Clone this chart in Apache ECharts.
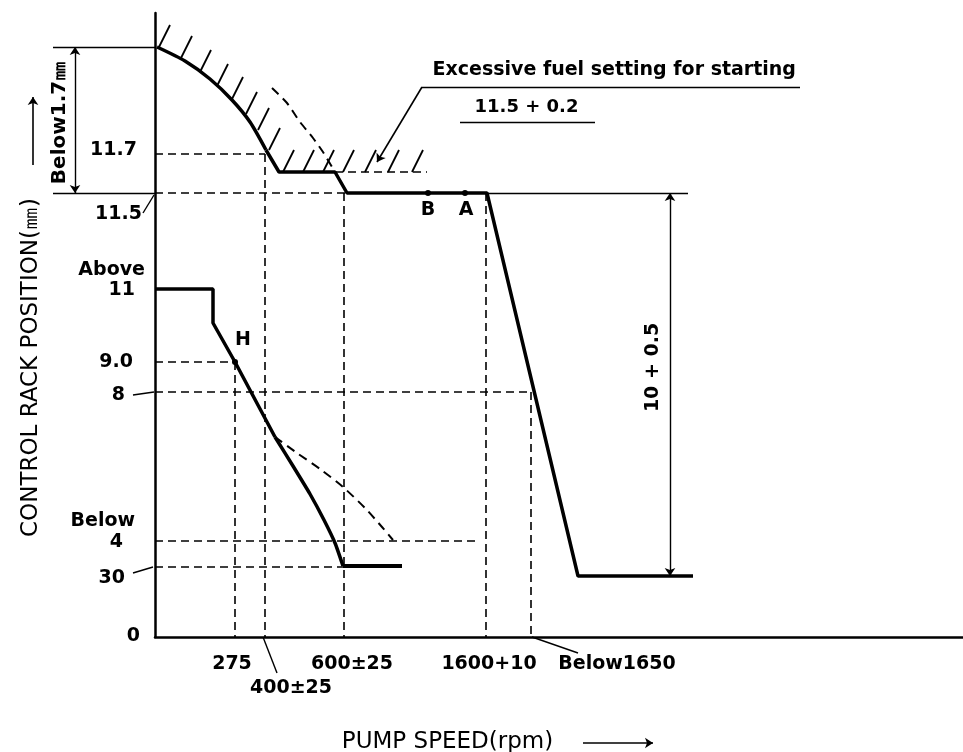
<!DOCTYPE html>
<html lang="en">
<head>
    <meta charset="UTF-8">
    <title>Control rack position vs pump speed</title>
    <script src="https://cdn.jsdelivr.net/npm/echarts@6/dist/echarts.min.js"></script>
    <style>
        html, body { margin: 0; padding: 0; background: #fff; }
    </style>
</head>
<body>
<div id="main" style="width: 963px;height:752px;"></div>
<script>
    // diagram units: the chart is a schematic, axes are not to scale
    var xLabelAt   = [77, 136, 197, 334, 462];
    var xLabels    = ['275', '400±25', '600±25', '1600+10', 'Below1650'];
    var yLabelAt   = [1, 59, 95, 116, 242, 275, 347, 367, 423, 487];
    var yLabels    = ['0', '30', '4', 'Below', '8', '9.0', '11', 'Above', '11.5', '11.7'];

    // full load / starting curve
    var upperCurve = [[2, 590], [30, 576], [55, 558], [77, 537], [95, 515], [111, 487]];
    var upperSteps = [[111, 487], [124, 465], [180, 465], [192, 444], [332, 444], [423, 61], [538, 61]];
    var startDashed = [[117, 549], [132, 534], [145, 515], [158, 499], [168, 485], [177, 470], [182, 462]];
    // idle curve
    var idleSteps  = [[0, 348], [58, 348], [58, 314], [80, 275], [120, 200]];
    var idleCurve  = [[120, 200], [138, 171], [155, 143], [169, 117], [180, 94], [188, 71]];
    var idleTail   = [[188, 71], [247, 71]];
    var idleDashed = [[120, 200], [142, 184], [165, 168], [188, 150], [210, 129], [227, 110], [238, 97]];

    // measuring points
    var pointNames = ['B', 'A', 'H'];
    var pointX     = [273, 310, 80];
    var pointY     = [444, 444, 275];

    // dashed reference lines
    var guides = [
        [[0, 483], [110, 483]], [[110, 483], [110, 0]],
        [[0, 444], [192, 444]], [[189, 444], [189, 0]], [[331, 444], [331, 0]],
        [[0, 245], [376, 245]], [[376, 245], [376, 0]],
        [[0, 275], [80, 275]], [[80, 275], [80, 0]],
        [[0, 96], [322, 96]], [[0, 70], [188, 70]],
        [[180, 465], [272, 465]]
    ];
    // thin solid lines: extension lines, underlines, label leaders
    var thinLines = [
        [[-102, 590], [0, 590]], [[-102, 444], [0, 444]], [[332, 444], [533, 444]],
        [[267, 550], [645, 550]], [[305, 515], [440, 515]],
        [[-12, 424], [-1, 442]], [[-22, 242], [-1, 245]], [[-22, 64], [-2, 70]],
        [[108, 0], [122, -36]], [[377, 0], [423, -16]]
    ];
    var dimLines   = [[[-80, 590], [-80, 444]], [[515, 444], [515, 61]]];
    var arrowLines = [[[267, 550], [222, 475]], [[-122, 472], [-122, 540]], [[428, -106], [498, -106]]];
    // hatching for the excess fuel limit
    var hatchBase = [[4, 590], [26, 579], [45, 565], [62, 551], [77, 538], [91, 523], [103, 507], [114, 487],
                     [128, 465], [148, 465], [168, 465], [188, 465], [210, 465], [233, 465], [257, 465]];

    var FONT = 'DejaVu Sans';
    var notes = [
        {text: 'Excessive fuel setting for starting', at: [278, 566], rotate: 0, align: 'left', size: 19, bold: true},
        {text: '11.5 + 0.2', at: [320, 529], rotate: 0, align: 'left', size: 18, bold: true},
        {text: 'Below1.7㎜', at: [-95, 514], rotate: 90, align: 'center', size: 20, bold: true},
        {text: '10 + 0.5', at: [499, 269], rotate: 90, align: 'center', size: 19, bold: true},
        {text: 'CONTROL RACK POSITION(㎜)', at: [-123, 269], rotate: 90, align: 'center', size: 23, bold: false},
        {text: 'PUMP SPEED(rpm)', at: [293, -106], rotate: 0, align: 'center', size: 23, bold: false}
    ];
    var yPad = {'0': 5, '30': 20, '4': 22, 'Below': 10, '8': 20, '9.0': 12, '11': 10, 'Above': 0, '11.5': 3, '11.7': 8};
    var pointOffset = {B: [0, 17], A: [1, 17], H: [8, -22]};

    var tickFont = {fontFamily: FONT, fontSize: 19, fontWeight: 'bold', color: '#000'};
    var yRich = {};
    yLabels.forEach(function (t, i) {
        yRich['p' + i] = Object.assign({padding: [0, yPad[t], 0, 0]}, tickFont);
    });

    function segs(list) {
        return list.map(function (c) { return {coords: c}; });
    }
    function pathLine(data, width, dashed, smooth) {
        return {
            type: 'line', data: data, smooth: smooth || false, symbol: 'none', clip: false,
            lineStyle: {color: '#000', width: width, type: dashed ? [9, 6] : 'solid'}
        };
    }

    var myChart = echarts.init(document.getElementById('main'));
    myChart.setOption({
        animation: false,
        backgroundColor: '#fff',
        grid: {left: 155, right: 0, top: 13, bottom: 115},
        xAxis: {
            type: 'value', min: 0, max: 808,
            axisLine: {lineStyle: {color: '#000', width: 2.5}},
            axisTick: {show: false},
            splitLine: {show: false},
            axisLabel: {
                customValues: xLabelAt,
                margin: 18,
                formatter: function (v) {
                    var t = xLabels[xLabelAt.indexOf(v)];
                    return t === '400±25' ? '{low|' + t + '}' : '{n|' + t + '}';
                },
                rich: {
                    n: tickFont,
                    low: Object.assign({padding: [24, 0, 0, 0]}, tickFont)
                }
            }
        },
        yAxis: {
            type: 'value', min: 0, max: 624,
            axisLine: {lineStyle: {color: '#000', width: 2.5}},
            axisTick: {show: false},
            splitLine: {show: false},
            axisLabel: {
                customValues: yLabelAt,
                margin: 10,
                formatter: function (v) {
                    var i = yLabelAt.indexOf(v);
                    return '{p' + i + '|' + yLabels[i] + '}';
                },
                rich: yRich
            }
        },
        series: [
            pathLine(upperCurve, 3.5, false, 0.25),
            pathLine(upperSteps, 3.5, false),
            pathLine(startDashed, 2, true, 0.25),
            pathLine(idleSteps, 3.5, false),
            pathLine(idleCurve, 3.5, false, 0.2),
            pathLine(idleTail, 4, false),
            pathLine(idleDashed, 2, true, 0.25),
            {
                type: 'lines', coordinateSystem: 'cartesian2d', clip: false,
                data: segs(guides),
                lineStyle: {color: '#000', width: 1.6, type: [8, 5], opacity: 1}
            },
            {
                type: 'lines', coordinateSystem: 'cartesian2d', clip: false,
                data: segs(thinLines),
                lineStyle: {color: '#000', width: 1.4, opacity: 1}
            },
            {
                type: 'lines', coordinateSystem: 'cartesian2d', clip: false,
                data: segs(hatchBase.map(function (p) { return [p, [p[0] + 11, p[1] + 22]]; })),
                lineStyle: {color: '#000', width: 1.8, opacity: 1}
            },
            {
                type: 'lines', coordinateSystem: 'cartesian2d', clip: false,
                symbol: ['arrow', 'arrow'], symbolSize: [8, 8],
                data: segs(dimLines),
                lineStyle: {color: '#000', width: 1.4, opacity: 1}
            },
            {
                type: 'lines', coordinateSystem: 'cartesian2d', clip: false,
                symbol: ['none', 'arrow'], symbolSize: 8,
                data: segs(arrowLines),
                lineStyle: {color: '#000', width: 1.6, opacity: 1}
            },
            {
                type: 'scatter', symbolSize: 6, clip: false,
                itemStyle: {color: '#000', opacity: 1},
                data: pointNames.map(function (n, i) {
                    return {
                        name: n, value: [pointX[i], pointY[i]],
                        label: Object.assign({show: true, formatter: n, position: 'inside',
                            offset: pointOffset[n], opacity: 1, textBorderWidth: 0}, tickFont)
                    };
                })
            },
            {
                type: 'scatter', symbolSize: 1, clip: false,
                itemStyle: {color: 'rgba(0,0,0,0)', opacity: 1},
                data: notes.map(function (n) {
                    return {
                        value: n.at,
                        label: {show: true, formatter: n.text, position: [0, 0], rotate: n.rotate,
                            align: n.align, verticalAlign: 'middle', opacity: 1,
                            fontFamily: FONT, fontSize: n.size, fontWeight: n.bold ? 'bold' : 'normal',
                            color: '#000'}
                    };
                })
            }
        ]
    });
</script>
</body>
</html>
